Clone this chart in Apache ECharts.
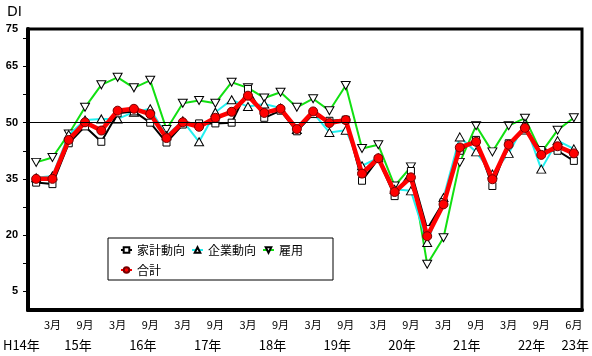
<!DOCTYPE html>
<html>
<head>
<meta charset="utf-8">
<script src="https://cdn.jsdelivr.net/npm/echarts@6/dist/echarts.min.js"></script>
<style>
html,body{margin:0;padding:0;background:#fff;}
#chart{width:592px;height:356px;}
</style>
</head>
<body>
<div id="chart"></div>
<script>
// 四半期 (H14年12月 ～ H23年6月)
var quarters = ['H14/12',
    'H15/3','H15/6','H15/9','H15/12','H16/3','H16/6','H16/9','H16/12',
    'H17/3','H17/6','H17/9','H17/12','H18/3','H18/6','H18/9','H18/12',
    'H19/3','H19/6','H19/9','H19/12','H20/3','H20/6','H20/9','H20/12',
    'H21/3','H21/6','H21/9','H21/12','H22/3','H22/6','H22/9','H22/12',
    'H23/6'];
var monthLabels = ['', '3月', '', '9月', '', '3月', '', '9月', '', '3月', '', '9月',
    '', '3月', '', '9月', '', '3月', '', '9月', '', '3月', '', '9月',
    '', '3月', '', '9月', '', '3月', '', '9月', '', '6月'];
var yearLabels = ['H14年', '15年', '16年', '17年', '18年', '19年', '20年', '21年', '22年', '23年'];
var yearPos = [-0.5, 3, 7, 11, 15, 19, 23, 27, 31, 33.7];   // 四半期の枠で数えた位置
var yLabels = [5, 20, 35, 50, 65, 75];
var yTicks = [5, 12.5, 20, 27.5, 35, 42.5, 50, 57.5, 65, 72.5];

var kakei = [34.0, 33.6, 44.5, 49.0, 44.9, 52.5, 53.0, 50.0, 44.7, 49.5, 49.8, 49.8,
    50.0, 59.0, 51.3, 53.2, 47.7, 52.3, 50.5, 50.8, 34.5, 40.3, 30.4, 37.1,
    21.6, 28.8, 42.5, 45.4, 33.1, 44.5, 47.9, 42.7, 42.5, 39.8];
var kigyo = [35.3, 35.8, 46.8, 50.7, 51.0, 51.0, 52.8, 53.7, 46.5, 50.5, 44.9, 52.8,
    56.1, 54.3, 55.0, 53.9, 48.2, 52.6, 47.4, 48.0, 38.5, 40.6, 32.2, 31.8,
    18.0, 30.0, 46.2, 42.2, 36.3, 41.8, 49.8, 37.6, 45.2, 43.0];
var koyo = [39.4, 40.7, 47.0, 54.1, 60.1, 62.1, 59.3, 61.3, 48.2, 55.2, 55.9, 55.2,
    60.8, 59.3, 56.6, 58.1, 54.1, 56.4, 53.2, 59.9, 43.1, 44.1, 33.1, 38.2,
    12.2, 19.3, 39.4, 49.2, 42.2, 49.2, 51.2, 42.0, 48.0, 51.3];
var gokei = [35.0, 35.0, 45.4, 50.1, 47.9, 53.2, 53.7, 52.3, 45.9, 50.1, 48.9, 51.3,
    52.9, 57.2, 52.6, 53.7, 48.3, 53.0, 49.9, 50.7, 36.4, 40.5, 31.5, 35.4,
    19.7, 28.2, 43.4, 44.9, 34.9, 44.1, 48.6, 41.4, 43.7, 41.8];

var W = 592, L = 28, R = 10;
var band = (W - L - R) / quarters.length;
var jp = '"Noto Sans CJK JP", sans-serif';

var chart = echarts.init(document.getElementById('chart'));
chart.setOption({
    animation: false,
    backgroundColor: '#fff',
    grid: [
        {left: L, right: R, top: 29, bottom: 46, show: true, borderColor: '#000', borderWidth: 3},
        {left: 0, right: 0, top: 29, bottom: 46}
    ],
    legend: {
        data: ['家計動向', '企業動向', '雇用', '合計'],
        left: 108, top: 238, width: 185,
        padding: [5, 30, 3, 12],
        itemWidth: 11, itemHeight: 7, itemGap: 6,
        borderColor: '#000', borderWidth: 1, backgroundColor: '#fff',
        textStyle: {fontSize: 12, lineHeight: 14, fontFamily: jp, color: '#000'}
    },
    xAxis: [
        {
            type: 'category', gridIndex: 0, data: quarters, boundaryGap: true,
            axisLine: {lineStyle: {color: '#000', width: 4}},
            axisTick: {inside: true, length: 5, alignWithLabel: true, interval: 0, lineStyle: {color: '#000', width: 2}},
            axisLabel: {
                interval: 0, fontSize: 11, fontFamily: jp, color: '#000', margin: 9,
                formatter: function (v, i) { return monthLabels[i]; }
            }
        },
        {
            type: 'value', gridIndex: 1, min: -L / band, max: (W - L) / band,
            axisLine: {show: false}, axisTick: {show: false}, splitLine: {show: false},
            axisLabel: {
                customValues: yearPos, fontSize: 13, fontFamily: jp, color: '#000', margin: 29,
                formatter: function (v) { return yearLabels[yearPos.indexOf(v)]; }
            }
        }
    ],
    yAxis: [
        {
            type: 'value', gridIndex: 0, min: 0, max: 75,
            name: 'DI', nameLocation: 'end', nameGap: 10,
            nameTextStyle: {fontSize: 14, fontFamily: 'DejaVu Sans', color: '#000', align: 'right', padding: [0, 6, 0, 0]},
            axisLine: {show: true, lineStyle: {color: '#000', width: 4}},
            axisTick: {show: true, length: 5, customValues: yTicks, lineStyle: {color: '#000', width: 1}},
            axisLabel: {customValues: yLabels, fontSize: 11, fontWeight: 'bold', fontFamily: 'Liberation Sans', color: '#000', margin: 10},
            splitLine: {show: false}
        },
        {type: 'value', gridIndex: 1, show: false}
    ],
    series: [
        {
            name: '家計動向', type: 'line', data: kakei, z: 3,
            symbol: 'rect', symbolSize: 7,
            itemStyle: {color: '#fff', borderColor: '#000', borderWidth: 1},
            lineStyle: {color: '#000', width: 2}
        },
        {
            name: '企業動向', type: 'line', data: kigyo, z: 2,
            symbol: 'triangle', symbolSize: [9, 8],
            itemStyle: {color: '#fff', borderColor: '#000', borderWidth: 1},
            lineStyle: {color: '#22f0f0', width: 2}
        },
        {
            name: '雇用', type: 'line', data: koyo, z: 1,
            symbol: 'triangle', symbolRotate: 180, symbolSize: [9, 8],
            itemStyle: {color: '#fff', borderColor: '#000', borderWidth: 1},
            lineStyle: {color: '#11e011', width: 2}
        },
        {
            name: '合計', type: 'line', data: gokei, z: 4,
            symbol: 'circle', symbolSize: 9,
            itemStyle: {color: '#f00', borderColor: '#700', borderWidth: 1},
            lineStyle: {color: '#f00', width: 4.5},
            markLine: {
                silent: true, symbol: 'none', label: {show: false},
                lineStyle: {color: '#000', width: 1, type: 'solid'},
                data: [{yAxis: 50}]
            }
        }
    ]
});
</script>
</body>
</html>
